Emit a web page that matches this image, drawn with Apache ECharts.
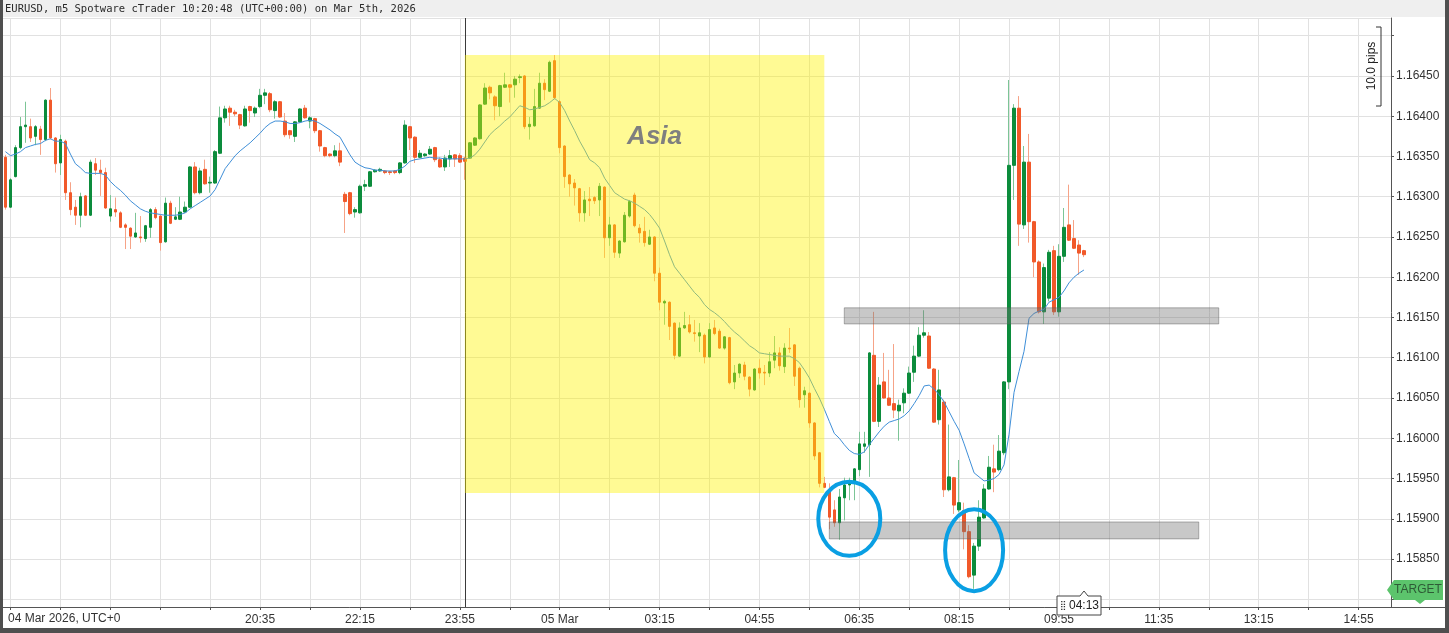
<!DOCTYPE html>
<html><head><meta charset="utf-8">
<script src="https://cdn.jsdelivr.net/npm/echarts@6/dist/echarts.min.js"></script>
<style>html,body{margin:0;padding:0;background:#fff}#c{width:1449px;height:633px}</style>
</head><body><div id="c"></div><script>
// ---------- data ----------
const titleText = 'EURUSD, m5 Spotware cTrader 10:20:48 (UTC+00:00) on Mar 5th, 2026';
const dateLabel = '04 Mar 2026, UTC+0';
const startUTC = [2026, 2, 4, 16, 20];   // first 5-minute bar: 04 Mar 2026 16:20
const stepMinutes = 5;
const categoryCount = 278;
const opens = [
1.16349,1.16287,1.16325,1.16361,1.16387,1.16387,1.16375,1.16384,1.16371,1.16420,
1.16373,1.16342,1.16369,1.16305,1.16287,1.16277,1.16301,1.16277,1.16341,1.16333,
1.16330,1.16276,1.16284,1.16280,1.16265,1.16261,1.16250,1.16250,1.16248,1.16262,
1.16284,1.16276,1.16244,1.16292,1.16272,1.16272,1.16281,1.16287,1.16337,1.16305,
1.16334,1.16317,1.16317,1.16354,1.16398,1.16410,1.16405,1.16402,1.16388,1.16412,
1.16404,1.16412,1.16426,1.16428,1.16407,1.16418,1.16394,1.16382,1.16375,1.16393,
1.16410,1.16394,1.16397,1.16382,1.16361,1.16353,1.16351,1.16357,1.16303,1.16305,
1.16281,1.16280,1.16313,1.16313,1.16331,1.16332,1.16332,1.16331,1.16332,1.16330,
1.16342,1.16387,1.16374,1.16349,1.16351,1.16353,1.16361,1.16346,1.16337,1.16347,
1.16352,1.16351,1.16348,1.16348,1.16364,1.16372,1.16415,1.16436,1.16424,1.16412,
1.16436,1.16439,1.16439,1.16448,1.16450,1.16387,1.16388,1.16410,1.16441,1.16431,
1.16469,1.16418,1.16363,1.16327,1.16317,1.16310,1.16280,1.16297,1.16299,1.16296,
1.16312,1.16249,1.16265,1.16230,1.16244,1.16276,1.16302,1.16261,1.16257,1.16241,
1.16250,1.16205,1.16168,1.16169,1.16143,1.16102,1.16137,1.16141,1.16131,1.16127,
1.16128,1.16101,1.16137,1.16133,1.16112,1.16125,1.16070,1.16081,1.16091,1.16076,
1.16060,1.16087,1.16082,1.16081,1.16097,1.16106,1.16089,1.16112,1.16116,1.16087,
1.16054,1.16056,1.16019,1.15982,1.15944,1.15936,1.15911,1.15895,1.15926,1.15942,
1.15946,1.15961,1.15990,1.15992,1.16103,1.16021,1.16070,1.16050,1.16043,1.16034,
1.16044,1.16056,1.16082,1.16102,1.16128,1.16127,1.16086,1.16023,1.16045,1.15936,
1.15951,1.15911,1.15910,1.15884,1.15830,1.15866,1.15901,1.15937,1.15962,1.15961,
1.15982,1.16070,1.16339,1.16410,1.16265,1.16343,1.16269,1.16219,1.16157,1.16174,
1.16233,1.16157,1.16226,1.16265,1.16248,1.16240,1.16233];
const highs = [
1.16352,1.16323,1.16364,1.16399,1.16418,1.16397,1.16389,1.16388,1.16421,1.16435,
1.16374,1.16377,1.16371,1.16318,1.16296,1.16305,1.16302,1.16346,1.16348,1.16346,
1.16336,1.16302,1.16299,1.16282,1.16267,1.16262,1.16280,1.16276,1.16265,1.16286,
1.16287,1.16277,1.16299,1.16295,1.16287,1.16300,1.16294,1.16338,1.16343,1.16336,
1.16346,1.16325,1.16358,1.16412,1.16413,1.16413,1.16408,1.16403,1.16413,1.16413,
1.16412,1.16434,1.16434,1.16430,1.16420,1.16419,1.16404,1.16383,1.16394,1.16410,
1.16414,1.16400,1.16398,1.16383,1.16362,1.16354,1.16364,1.16367,1.16306,1.16306,
1.16287,1.16315,1.16321,1.16332,1.16334,1.16336,1.16333,1.16332,1.16333,1.16343,
1.16395,1.16388,1.16375,1.16358,1.16354,1.16363,1.16362,1.16349,1.16352,1.16358,
1.16353,1.16354,1.16349,1.16368,1.16374,1.16415,1.16441,1.16438,1.16426,1.16439,
1.16454,1.16440,1.16450,1.16452,1.16451,1.16399,1.16434,1.16454,1.16446,1.16469,
1.16476,1.16420,1.16364,1.16328,1.16322,1.16311,1.16307,1.16312,1.16301,1.16317,
1.16313,1.16275,1.16266,1.16246,1.16281,1.16296,1.16305,1.16266,1.16275,1.16259,
1.16251,1.16212,1.16172,1.16170,1.16144,1.16144,1.16157,1.16153,1.16147,1.16143,
1.16130,1.16143,1.16147,1.16136,1.16127,1.16126,1.16091,1.16093,1.16095,1.16077,
1.16087,1.16098,1.16091,1.16107,1.16127,1.16113,1.16118,1.16137,1.16117,1.16089,
1.16064,1.16057,1.16020,1.15983,1.15952,1.15944,1.15923,1.15937,1.15951,1.15951,
1.15963,1.16008,1.16008,1.16107,1.16157,1.16076,1.16106,1.16085,1.16117,1.16048,
1.16062,1.16089,1.16115,1.16138,1.16159,1.16132,1.16087,1.16085,1.16048,1.16017,
1.15952,1.15973,1.15920,1.15892,1.15870,1.15923,1.15943,1.15978,1.15992,1.16004,
1.16071,1.16445,1.16415,1.16425,1.16363,1.16378,1.16270,1.16221,1.16217,1.16234,
1.16239,1.16241,1.16286,1.16315,1.16271,1.16246,1.16234];
const lows = [
1.16284,1.16286,1.16324,1.16359,1.16367,1.16368,1.16364,1.16352,1.16369,1.16371,
1.16330,1.16327,1.16296,1.16277,1.16265,1.16262,1.16276,1.16276,1.16327,1.16301,
1.16285,1.16269,1.16275,1.16261,1.16235,1.16235,1.16249,1.16243,1.16244,1.16249,
1.16272,1.16233,1.16243,1.16266,1.16271,1.16271,1.16280,1.16286,1.16303,1.16303,
1.16315,1.16305,1.16316,1.16353,1.16392,1.16388,1.16400,1.16384,1.16387,1.16392,
1.16399,1.16410,1.16415,1.16405,1.16397,1.16398,1.16374,1.16372,1.16368,1.16392,
1.16397,1.16385,1.16379,1.16356,1.16349,1.16349,1.16349,1.16338,1.16255,1.16277,
1.16274,1.16279,1.16307,1.16312,1.16330,1.16331,1.16328,1.16327,1.16328,1.16328,
1.16341,1.16358,1.16342,1.16348,1.16349,1.16352,1.16343,1.16336,1.16332,1.16337,
1.16337,1.16342,1.16321,1.16347,1.16363,1.16371,1.16414,1.16421,1.16395,1.16400,
1.16435,1.16417,1.16423,1.16441,1.16384,1.16371,1.16387,1.16409,1.16420,1.16430,
1.16421,1.16354,1.16311,1.16300,1.16289,1.16269,1.16269,1.16276,1.16291,1.16276,
1.16224,1.16239,1.16224,1.16224,1.16243,1.16274,1.16262,1.16243,1.16238,1.16240,
1.16195,1.16159,1.16141,1.16122,1.16098,1.16101,1.16136,1.16130,1.16120,1.16107,
1.16093,1.16100,1.16128,1.16111,1.16110,1.16067,1.16061,1.16075,1.16072,1.16052,
1.16059,1.16074,1.16066,1.16076,1.16087,1.16084,1.16081,1.16106,1.16065,1.16038,
1.16038,1.16013,1.15973,1.15939,1.15938,1.15887,1.15890,1.15874,1.15898,1.15923,
1.15923,1.15953,1.15982,1.15952,1.16020,1.16014,1.16049,1.16040,1.16025,1.15997,
1.16031,1.16055,1.16070,1.16101,1.16125,1.16086,1.16019,1.16017,1.15927,1.15934,
1.15906,1.15908,1.15862,1.15826,1.15813,1.15860,1.15900,1.15936,1.15933,1.15959,
1.15979,1.16061,1.16296,1.16239,1.16260,1.16243,1.16200,1.16155,1.16142,1.16170,
1.16153,1.16151,1.16219,1.16245,1.16235,1.16203,1.16225];
const closes = [
1.16287,1.16321,1.16361,1.16387,1.16389,1.16373,1.16387,1.16371,1.16420,1.16373,
1.16341,1.16371,1.16305,1.16284,1.16277,1.16300,1.16277,1.16343,1.16333,1.16330,
1.16286,1.16285,1.16281,1.16262,1.16262,1.16251,1.16255,1.16249,1.16264,1.16284,
1.16274,1.16243,1.16292,1.16267,1.16275,1.16281,1.16287,1.16337,1.16305,1.16332,
1.16316,1.16318,1.16356,1.16398,1.16409,1.16405,1.16403,1.16389,1.16409,1.16407,
1.16410,1.16426,1.16429,1.16408,1.16418,1.16399,1.16377,1.16377,1.16393,1.16409,
1.16398,1.16398,1.16382,1.16363,1.16351,1.16351,1.16357,1.16343,1.16294,1.16279,
1.16284,1.16313,1.16315,1.16331,1.16333,1.16334,1.16330,1.16330,1.16330,1.16342,
1.16389,1.16373,1.16349,1.16354,1.16353,1.16359,1.16346,1.16337,1.16348,1.16351,
1.16347,1.16343,1.16344,1.16367,1.16373,1.16414,1.16435,1.16429,1.16413,1.16438,
1.16439,1.16436,1.16446,1.16449,1.16387,1.16390,1.16412,1.16441,1.16433,1.16467,
1.16423,1.16361,1.16325,1.16316,1.16311,1.16280,1.16296,1.16295,1.16295,1.16313,
1.16249,1.16265,1.16231,1.16245,1.16277,1.16294,1.16264,1.16255,1.16243,1.16250,
1.16205,1.16169,1.16170,1.16139,1.16103,1.16137,1.16140,1.16132,1.16130,1.16131,
1.16101,1.16135,1.16130,1.16112,1.16126,1.16069,1.16081,1.16092,1.16077,1.16061,
1.16086,1.16081,1.16081,1.16095,1.16106,1.16090,1.16112,1.16111,1.16077,1.16048,
1.16059,1.16019,1.15978,1.15944,1.15939,1.15902,1.15895,1.15927,1.15942,1.15944,
1.15962,1.15993,1.15993,1.16106,1.16021,1.16066,1.16050,1.16041,1.16035,1.16041,
1.16056,1.16081,1.16102,1.16128,1.16131,1.16087,1.16020,1.16060,1.15936,1.15952,
1.15917,1.15920,1.15884,1.15828,1.15866,1.15902,1.15937,1.15964,1.15958,1.15984,
1.16070,1.16339,1.16410,1.16266,1.16343,1.16269,1.16219,1.16157,1.16212,1.16231,
1.16157,1.16226,1.16262,1.16246,1.16236,1.16230,1.16228];
const maValues = [
1.16356,1.16351,1.16353,1.16356,1.16361,1.16363,1.16365,1.16366,1.16370,1.16372,
1.16369,1.16369,1.16366,1.16353,1.16341,1.16336,1.16330,1.16329,1.16329,1.16329,
1.16327,1.16319,1.16313,1.16308,1.16302,1.16295,1.16290,1.16285,1.16282,1.16280,
1.16279,1.16278,1.16277,1.16277,1.16277,1.16278,1.16280,1.16285,1.16289,1.16293,
1.16297,1.16301,1.16309,1.16322,1.16335,1.16343,1.16351,1.16357,1.16362,1.16367,
1.16373,1.16379,1.16386,1.16391,1.16394,1.16394,1.16393,1.16391,1.16391,1.16392,
1.16394,1.16395,1.16394,1.16391,1.16387,1.16383,1.16378,1.16374,1.16363,1.16352,
1.16343,1.16339,1.16336,1.16335,1.16333,1.16333,1.16332,1.16332,1.16332,1.16334,
1.16338,1.16344,1.16346,1.16347,1.16348,1.16349,1.16348,1.16348,1.16347,1.16347,
1.16347,1.16347,1.16347,1.16348,1.16352,1.16359,1.16368,1.16377,1.16383,1.16388,
1.16394,1.16399,1.16406,1.16413,1.16411,1.16408,1.16409,1.16411,1.16413,1.16417,
1.16422,1.16417,1.16407,1.16394,1.16382,1.16369,1.16358,1.16346,1.16342,1.16336,
1.16323,1.16314,1.16305,1.16301,1.16297,1.16295,1.16292,1.16288,1.16284,1.16278,
1.16270,1.16261,1.16245,1.16228,1.16213,1.16205,1.16197,1.16189,1.16181,1.16175,
1.16166,1.16160,1.16156,1.16151,1.16145,1.16138,1.16132,1.16127,1.16121,1.16115,
1.16111,1.16106,1.16105,1.16104,1.16103,1.16102,1.16102,1.16102,1.16099,1.16094,
1.16085,1.16075,1.16062,1.16050,1.16036,1.16021,1.16006,1.16000,1.15992,1.15985,
1.15981,1.15980,1.15983,1.15992,1.16000,1.16008,1.16015,1.16020,1.16022,1.16024,
1.16028,1.16034,1.16043,1.16053,1.16065,1.16066,1.16061,1.16054,1.16045,1.16033,
1.16021,1.16010,1.15993,1.15975,1.15957,1.15952,1.15947,1.15948,1.15950,1.15955,
1.15967,1.16005,1.16057,1.16083,1.16108,1.16149,1.16155,1.16158,1.16160,1.16169,
1.16172,1.16175,1.16183,1.16193,1.16200,1.16205,1.16209];
const tickTimes = ['2026-03-04 20:35','2026-03-04 22:15','2026-03-04 23:55','2026-03-05 01:35','2026-03-05 03:15','2026-03-05 04:55','2026-03-05 06:35','2026-03-05 08:15','2026-03-05 09:55','2026-03-05 11:35','2026-03-05 13:15','2026-03-05 14:55'];
const tickTexts = ['20:35','22:15','23:55','05 Mar','03:15','04:55','06:35','08:15','09:55','11:35','13:15','14:55'];
const hiddenPriceLabels = [1.158, 1.165];
const priceMin = 1.157904, priceMax = 1.16522;
const daySeparator = '2026-03-05 00:00';
const asiaZone = {name: 'Asia', from: '2026-03-05 00:00', to: '2026-03-05 06:00', top: 1.16476, bottom: 1.15932, labelAt: '2026-03-05 03:10', labelPrice: 1.16375};
const levelZones = [
  {from: '2026-03-05 06:20', to: '2026-03-05 12:35', top: 1.16162, bottom: 1.16142},
  {from: '2026-03-05 06:05', to: '2026-03-05 12:15', top: 1.15896, bottom: 1.15875}
];
const circleMarks = [
  {at: '2026-03-05 06:25', price: 1.15900},
  {at: '2026-03-05 08:30', price: 1.15861}
];
const targetPrice = 1.15812;
const countdownText = '04:13';
const pipsText = '10.0 pips';

// ---------- build ----------
function pad(n){ return String(n).padStart(2, '0'); }
const categories = [];
const t0 = Date.UTC(startUTC[0], startUTC[1], startUTC[2], startUTC[3], startUTC[4]);
for (let i = 0; i < categoryCount; i++) {
  const t = new Date(t0 + i * stepMinutes * 60000);
  categories.push(t.getUTCFullYear() + '-' + pad(t.getUTCMonth() + 1) + '-' + pad(t.getUTCDate()) + ' ' + pad(t.getUTCHours()) + ':' + pad(t.getUTCMinutes()));
}
const fullData = opens.map((o, i) => [o, closes[i], lows[i], highs[i]]);
const bodyData = opens.map((o, i) => [o, closes[i], Math.min(o, closes[i]), Math.max(o, closes[i])]);

const UP = '#0c8c3c', DOWN = '#f1592a', UPW = '#7cc596', DOWNW = '#f6a387';
const GRID = '#e1e1e1', AX = '#555';
const gridInterval = (idx) => idx % 10 === 1;

const chart = echarts.init(document.getElementById('c'), null, {renderer: 'canvas', width: 1449, height: 633});
chart.setOption({
  animation: false,
  backgroundColor: '#ffffff',
  textStyle: {fontFamily: 'Liberation Sans'},
  grid: {left: 3, right: 58, top: 18, bottom: 26, containLabel: false, outerBoundsMode: 'none'},
  xAxis: {
    type: 'category', data: categories, boundaryGap: true,
    axisLine: {show: true, lineStyle: {color: AX, width: 1}},
    axisTick: {show: true, interval: gridInterval, alignWithLabel: true, length: 3, lineStyle: {color: AX}},
    axisLabel: {
      interval: (idx, val) => tickTimes.indexOf(val) >= 0,
      formatter: (val) => { const k = tickTimes.indexOf(val); return k >= 0 ? tickTexts[k] : ''; },
      color: '#333', fontSize: 12, margin: 7, hideOverlap: false
    },
    splitLine: {show: true, interval: gridInterval, alignWithLabel: true, lineStyle: {color: GRID, width: 1}}
  },
  yAxis: {
    type: 'value', position: 'right', min: priceMin, max: priceMax, scale: true,
    minInterval: 0.0005, maxInterval: 0.0005,
    axisLine: {show: true, lineStyle: {color: AX, width: 1}},
    axisTick: {show: true, length: 3, lineStyle: {color: AX}},
    axisLabel: {
      showMinLabel: false, showMaxLabel: false, color: '#333', fontSize: 12, margin: 5,
      formatter: (v) => hiddenPriceLabels.some(h => Math.abs(h - v) < 1e-9) ? '' : v.toFixed(5)
    },
    splitLine: {show: true, lineStyle: {color: GRID, width: 1}}
  },
  series: [
    {
      name: 'wicks', type: 'candlestick', data: fullData, barWidth: 1, z: 2, silent: true,
      itemStyle: {color: UPW, color0: DOWNW, borderColor: UPW, borderColor0: DOWNW, borderColorDoji: DOWNW, borderWidth: 1}
    },
    {
      name: 'bodies', type: 'candlestick', data: bodyData, barWidth: 3, z: 3, silent: true,
      itemStyle: {color: UP, color0: DOWN, borderColor: UP, borderColor0: DOWN, borderColorDoji: DOWN, borderWidth: 1}
    },
    {
      name: 'MA', type: 'line', data: maValues, showSymbol: false, symbol: 'none', z: 4, silent: true,
      lineStyle: {color: '#3f8fd8', width: 1},
      markLine: {
        z: 3, silent: true, symbol: 'none', label: {show: false},
        lineStyle: {color: '#3a3a3a', width: 1, type: 'solid'},
        data: [{xAxis: daySeparator}]
      },
      markArea: {
        z: 10, silent: true, label: {show: false},
        data: [
          [{xAxis: asiaZone.from, yAxis: asiaZone.top, itemStyle: {color: 'rgba(255,244,0,0.42)'}}, {xAxis: asiaZone.to, yAxis: asiaZone.bottom}],
          ...levelZones.map(z => [{xAxis: z.from, yAxis: z.top, itemStyle: {color: 'rgba(110,110,110,0.38)', borderColor: 'rgba(90,90,90,0.45)', borderWidth: 1}}, {xAxis: z.to, yAxis: z.bottom}])
        ]
      }
    }
  ]
});

function px(cat, price){ return chart.convertToPixel({xAxisIndex: 0, yAxisIndex: 0}, [cat, price]); }
const els = [];
// frame + title bar
els.push({type: 'rect', shape: {x: 0, y: 0, width: 1449, height: 17}, style: {fill: '#efefef'}, z: 100});
els.push({type: 'text', x: 5, y: 9, style: {text: titleText, font: '10.5px "DejaVu Sans Mono"', fill: '#2a2a2a', verticalAlign: 'middle'}, z: 101});
els.push({type: 'rect', shape: {x: 0, y: 0, width: 3, height: 633}, style: {fill: '#4f4f4f'}, z: 102});
els.push({type: 'rect', shape: {x: 1445, y: 0, width: 4, height: 633}, style: {fill: '#4f4f4f'}, z: 102});
els.push({type: 'rect', shape: {x: 0, y: 628, width: 1449, height: 5}, style: {fill: '#4f4f4f'}, z: 102});
// time axis line continues under the price scale
els.push({type: 'line', shape: {x1: 1391, y1: 607.5, x2: 1445, y2: 607.5}, style: {stroke: AX, lineWidth: 1}, z: 99});
// date label at left of the time axis
els.push({type: 'text', x: 8, y: 619, style: {text: dateLabel, font: '12px "Liberation Sans"', fill: '#333', verticalAlign: 'middle'}, z: 101});
// Asia label
const aP = px(asiaZone.labelAt, asiaZone.labelPrice);
els.push({type: 'text', x: aP[0], y: aP[1], style: {text: asiaZone.name, font: 'italic bold 26px "Liberation Sans"', fill: '#7f7f7f', align: 'center', verticalAlign: 'middle'}, z: 101});
// blue ellipses
const radii = [[31, 37], [29, 41]];
circleMarks.forEach((c, i) => {
  const p = px(c.at, c.price);
  els.push({type: 'ellipse', shape: {cx: p[0], cy: p[1], rx: radii[i][0], ry: radii[i][1]}, style: {fill: 'none', stroke: '#0a9fe3', lineWidth: 4}, z: 101});
});
// countdown box under the last bar
const lastP = px(categories[opens.length - 1], closes[closes.length - 1]);
const bx = Math.round(lastP[0]) - 27;
els.push({type: 'polygon', shape: {points: [[bx, 596], [bx + 23, 596], [bx + 27, 591], [bx + 31, 596], [bx + 44, 596], [bx + 44, 615], [bx, 615]]}, style: {fill: '#fff', stroke: '#444', lineWidth: 1}, z: 103});
els.push({type: 'text', x: bx + 3, y: 606, style: {text: '\u28FF', font: '9px "DejaVu Sans"', fill: '#333', verticalAlign: 'middle'}, z: 104});
els.push({type: 'text', x: bx + 12, y: 606, style: {text: countdownText, font: '12px "Liberation Sans"', fill: '#222', verticalAlign: 'middle'}, z: 104});
// TARGET flag on price axis
const tY = Math.round(px(categories[0], targetPrice)[1]);
els.push({type: 'polygon', shape: {points: [[1387, tY], [1394, tY - 10], [1443, tY - 10], [1443, tY + 10], [1425, tY + 10], [1420, tY + 14], [1415, tY + 10], [1394, tY + 10]]}, style: {fill: '#5cc46c'}, z: 103});
els.push({type: 'text', x: 1418, y: tY, style: {text: 'TARGET', font: '12px "Liberation Sans"', fill: '#2e5b36', align: 'center', verticalAlign: 'middle'}, z: 104});
// 10 pips ruler
els.push({type: 'polyline', shape: {points: [[1376, 27], [1381, 27], [1381, 106], [1376, 106]]}, style: {stroke: '#333', lineWidth: 1, fill: 'none'}, z: 103});
els.push({type: 'text', x: 1372, y: 66, rotation: Math.PI / 2, style: {text: pipsText, font: '12px "Liberation Sans"', fill: '#222', align: 'center', verticalAlign: 'middle'}, z: 104});
chart.setOption({graphic: {elements: els}});
</script></body></html>
